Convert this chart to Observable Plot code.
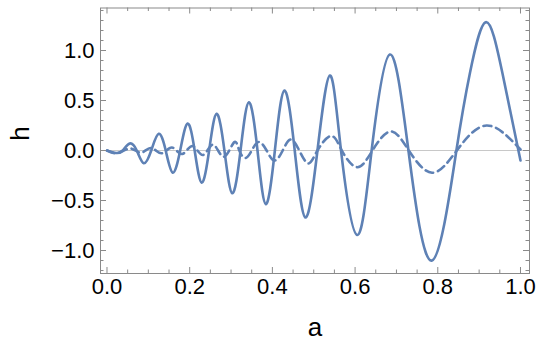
<!DOCTYPE html>
<html>
<head>
<meta charset="utf-8">
<script src="https://cdn.jsdelivr.net/npm/d3@7"></script>
<script src="https://cdn.jsdelivr.net/npm/@observablehq/plot@0.6"></script>
<style>
  html, body { margin: 0; padding: 0; background: white; }
</style>
</head>
<body>
<div id="chart"></div>
<script>
// Solid curve (a, h): extrema and zero crossings
const solidA = [0, 0.022, 0.038, 0.055, 0.072, 0.089, 0.107, 0.125, 0.142, 0.159, 0.177, 0.195, 0.212, 0.229, 0.247, 0.265, 0.284, 0.303, 0.323, 0.343, 0.364, 0.384, 0.406, 0.429, 0.454, 0.480, 0.509, 0.539, 0.566, 0.605, 0.640, 0.684, 0.729, 0.786, 0.845, 0.878, 0.916, 0.956, 1.0];
const solidH = [0, -0.025, 0, 0.07, 0, -0.127, 0, 0.167, 0, -0.222, 0, 0.27, 0, -0.322, 0, 0.367, 0, -0.428, 0, 0.483, 0, -0.537, 0, 0.60, 0, -0.67, 0, 0.75, 0, -0.845, 0, 0.96, 0, -1.10, 0, 0.78, 1.283, 0.78, -0.10];

// Dashed curve (a, h)
const dashA = [0, 0.027, 0.057, 0.082, 0.107, 0.132, 0.157, 0.182, 0.207, 0.232, 0.257, 0.282, 0.307, 0.32, 0.335, 0.35, 0.367, 0.386, 0.405, 0.425, 0.444, 0.465, 0.487, 0.509, 0.542, 0.568, 0.605, 0.642, 0.686, 0.730, 0.786, 0.846, 0.918, 1.0];
const dashH = [0, -0.025, 0.02, -0.022, 0.025, -0.028, 0.03, -0.035, 0.045, -0.045, 0.058, -0.062, 0.08, 0, -0.075, 0, 0.085, 0, -0.10, 0, 0.11, 0, -0.13, 0, 0.145, 0, -0.167, 0, 0.19, 0, -0.223, 0, 0.25, 0.01];

// Axis ticks
const xMajor = [0, 0.2, 0.4, 0.6, 0.8, 1.0];
const xMinor = [0.05, 0.1, 0.15, 0.25, 0.3, 0.35, 0.45, 0.5, 0.55, 0.65, 0.7, 0.75, 0.85, 0.9, 0.95];
const yMajor = [-1.0, -0.5, 0, 0.5, 1.0];
const yMinor = [-1.2, -1.1, -0.9, -0.8, -0.7, -0.6, -0.4, -0.3, -0.2, -0.1, 0.1, 0.2, 0.3, 0.4, 0.6, 0.7, 0.8, 0.9, 1.1, 1.2, 1.3, 1.4];

const solid = solidA.map((a, i) => ({a, h: solidH[i]}));
const dashed = dashA.map((a, i) => ({a, h: dashH[i]}));

const W = 550, Hgt = 354;
const mL = 100, mR = 21, mT = 7.5, mB = 81;
const PW = W - mL - mR, PH = Hgt - mT - mB;
const blue = "#5E81B5";
const frameColor = "#8a8a8a";
const fmt = d => d.toFixed(1).replace("-", "\u2212");
const major = 6, minor = 3.5;

const chart = Plot.plot({
  width: W, height: Hgt,
  marginLeft: mL, marginRight: mR, marginTop: mT, marginBottom: mB,
  x: {domain: [-0.0157, 1.0218], axis: null},
  y: {domain: [-1.23, 1.425], axis: null},
  style: {fontFamily: "'Liberation Sans', Arial, sans-serif", fontSize: "22px", color: "black", background: "white"},
  marks: [
    Plot.ruleY([0], {stroke: "#c8c8c8", strokeWidth: 1}),
    Plot.line(solid, {x: "a", y: "h", curve: "natural", stroke: blue, strokeWidth: 2.6}),
    Plot.line(dashed, {x: "a", y: "h", curve: "natural", stroke: blue, strokeWidth: 2.6, strokeDasharray: "8,5"}),
    Plot.frame({stroke: frameColor, strokeWidth: 1}),
    // bottom & top ticks
    Plot.tickX(xMajor, {x: d => d, insetTop: PH - major, stroke: frameColor}),
    Plot.tickX(xMinor, {x: d => d, insetTop: PH - minor, stroke: frameColor}),
    Plot.tickX(xMajor, {x: d => d, insetBottom: PH - major, stroke: frameColor}),
    Plot.tickX(xMinor, {x: d => d, insetBottom: PH - minor, stroke: frameColor}),
    // left & right ticks
    Plot.tickY(yMajor, {y: d => d, insetRight: PW - major, stroke: frameColor}),
    Plot.tickY(yMinor, {y: d => d, insetRight: PW - minor, stroke: frameColor}),
    Plot.tickY(yMajor, {y: d => d, insetLeft: PW - major, stroke: frameColor}),
    Plot.tickY(yMinor, {y: d => d, insetLeft: PW - minor, stroke: frameColor}),
    // tick labels
    Plot.text(xMajor, {x: d => d, frameAnchor: "bottom", dy: 20, text: fmt, fill: "black", fontSize: 22}),
    Plot.text(yMajor, {y: d => d, frameAnchor: "left", dx: -6, textAnchor: "end", text: fmt, fill: "black", fontSize: 22}),
    // axis labels
    Plot.text(["a"], {frameAnchor: "bottom", dy: 62, text: d => d, fill: "black", fontSize: 26}),
    Plot.text(["h"], {frameAnchor: "left", dx: -80, rotate: -90, text: d => d, fill: "black", fontSize: 26})
  ]
});
document.getElementById("chart").appendChild(chart);
</script>
</body>
</html>
